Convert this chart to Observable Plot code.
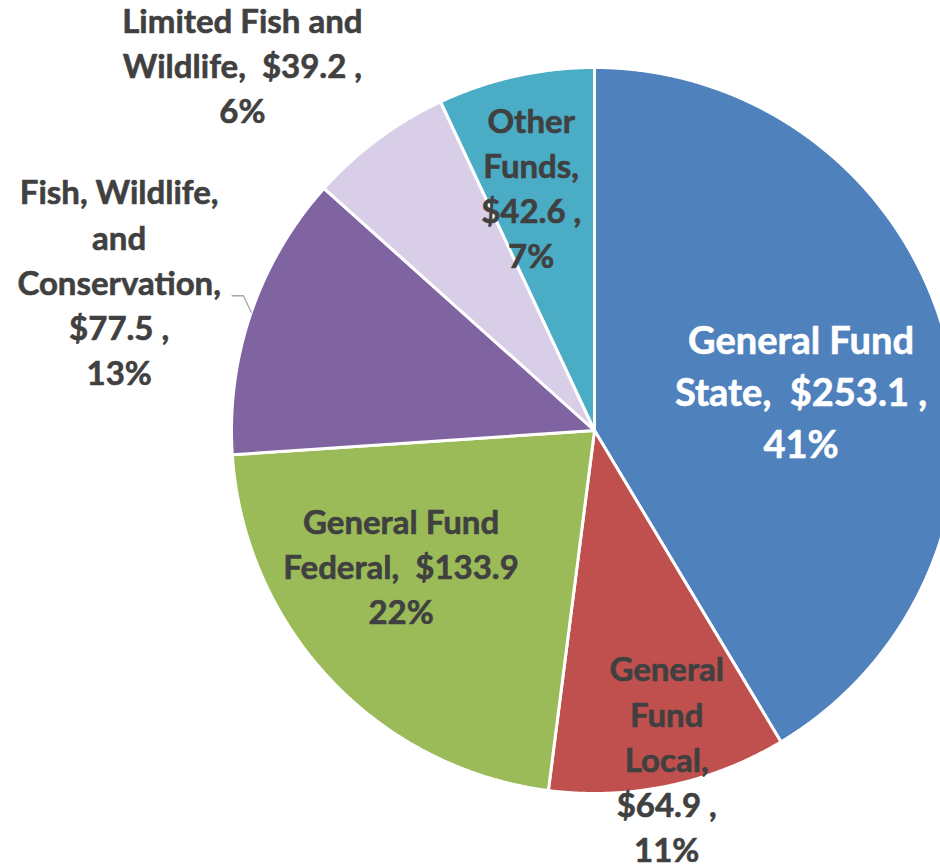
<!DOCTYPE html>
<html>
<head>
<meta charset="utf-8">
<script src="https://cdn.jsdelivr.net/npm/d3@7"></script>
<script src="https://cdn.jsdelivr.net/npm/@observablehq/plot@0.6"></script>
<style>
  html, body { margin: 0; padding: 0; background: #fff; }
  #chart { width: 940px; height: 865px; overflow: hidden; }
</style>
</head>
<body>
<div id="chart"></div>
<script>
// ---- data ----
const categories = [
  "General Fund State",
  "General Fund Local",
  "General Fund Federal",
  "Fish, Wildlife, and Conservation",
  "Limited Fish and Wildlife",
  "Other Funds"
];
const values = [253.1, 64.9, 133.9, 77.5, 39.2, 42.6];
const percents = ["41%", "11%", "22%", "13%", "6%", "7%"];
const labelTexts = [
  "General Fund\nState,  $253.1 ,\n41%",
  "General\nFund\nLocal,\n$64.9 ,\n11%",
  "General Fund\nFederal,  $133.9\n22%",
  "Fish, Wildlife,\nand\nConservation,\n$77.5 ,\n13%",
  "Limited Fish and\nWildlife,  $39.2 ,\n6%",
  "Other\nFunds,\n$42.6 ,\n7%"
];

// ---- styles / layout (not data) ----
const colors = ["#4F81BD", "#C0504D", "#9BBB59", "#8064A2", "#D9CEE8", "#4BACC6"];
const labelLayout = [
  {dAngle: 5.3,  r: 0.578, fill: "#ffffff", size: 38},
  {dAngle: -0.5, r: 0.933, fill: "#404040", size: 33},
  {dAngle: 7.7,  r: 0.655, fill: "#404040", size: 33},
  {dAngle: -1.9, r: 1.370, fill: "#404040", size: 33},
  {dAngle: -7.5, r: 1.393, fill: "#404040", size: 33},
  {dAngle: -2.2, r: 0.685, fill: "#404040", size: 33}
];

const W = 940, H = 865, R = 363, CX = 594, CY = 430;

const table = categories.map((c, i) => ({category: c, value: values[i], pct: percents[i], label: labelTexts[i], i}));
const arcs = d3.pie().sort(null).value(d => d.value)(table);

const polar = (a, r) => ({x: r * Math.sin(a), y: r * Math.cos(a)});

// slice outlines built from the pie angles
const slicePts = [];
for (const a of arcs) {
  slicePts.push({category: a.data.category, ...polar(0, 0)});
  const steps = Math.max(2, Math.ceil((a.endAngle - a.startAngle) / (Math.PI / 720)));
  for (let k = 0; k <= steps; k++) {
    const ang = a.startAngle + (a.endAngle - a.startAngle) * k / steps;
    slicePts.push({category: a.data.category, ...polar(ang, 1)});
  }
  slicePts.push({category: a.data.category, ...polar(0, 0)});
}

const labels = arcs.map((a, i) => {
  const mid = (a.startAngle + a.endAngle) / 2;
  const L = labelLayout[i];
  const p = polar(mid + L.dAngle * Math.PI / 180, L.r);
  return {...p, text: a.data.label, fill: L.fill, size: L.size};
});

// leader line for the outside "Fish, Wildlife, and Conservation" label
const fwc = arcs[3];
const fwcMid = (fwc.startAngle + fwc.endAngle) / 2;
const lp0 = polar(fwcMid, 1.0);
const lp1 = polar(fwcMid + 2 * Math.PI / 180, 1.036);
const leader = [lp0, lp1, {x: lp1.x - 0.031, y: lp1.y}];

const chart = Plot.plot({
  width: W,
  height: H,
  margin: 0,
  x: {domain: [-CX / R, (W - CX) / R], axis: null},
  y: {domain: [-(H - CY) / R, CY / R], axis: null},
  color: {domain: categories, range: colors},
  style: {fontFamily: "Lato, 'Open Sans', sans-serif", background: "#fff"},
  marks: [
    Plot.line(slicePts, {
      x: "x", y: "y", z: "category",
      fill: "category",
      stroke: "#ffffff",
      strokeWidth: 3,
      strokeLinejoin: "round",
      curve: "linear"
    }),
    Plot.line(leader, {x: "x", y: "y", stroke: "#a6a6a6", strokeWidth: 1.3}),
    Plot.text(labels, {
      x: "x", y: "y", text: "text",
      fill: d => d.fill,
      stroke: d => d.fill,
      strokeWidth: 0.6,
      fontSize: d => d.size,
      fontWeight: "bold",
      lineAnchor: "middle",
      lineHeight: 1.37,
      textAnchor: "middle",
      dy: -4
    })
  ]
});

document.getElementById("chart").appendChild(chart);
</script>
</body>
</html>
